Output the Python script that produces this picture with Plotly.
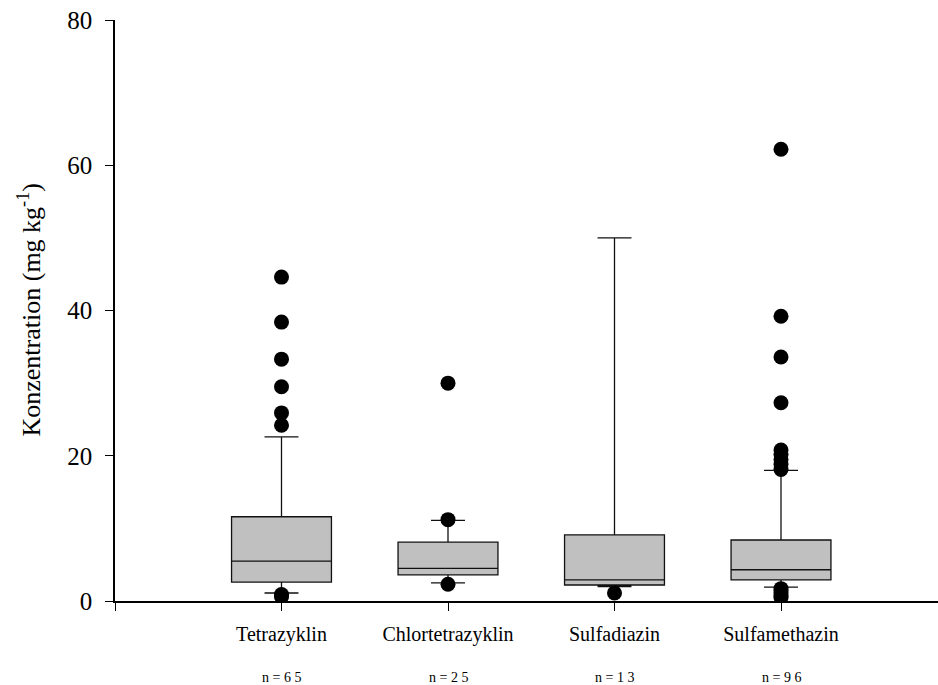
import plotly.graph_objects as go

# Substances and sample sizes
substances = ["Tetrazyklin", "Chlortetrazyklin", "Sulfadiazin", "Sulfamethazin"]
sample_sizes = ["n = 6 5", "n = 2 5", "n = 1 3", "n = 9 6"]

# Box statistics (mg/kg)
q1 = [2.6, 3.6, 2.2, 2.9]
median = [5.5, 4.5, 2.9, 4.3]
q3 = [11.6, 8.1, 9.1, 8.4]
lower_whisker = [1.1, 2.5, 2.0, 1.9]
upper_whisker = [22.6, 11.1, 50.0, 18.0]

# Outliers per substance
outliers_tetrazyklin = [44.6, 38.4, 33.3, 29.5, 25.9, 24.2, 0.9, 0.6]
outliers_chlortetrazyklin = [30.0, 11.2, 2.3]
outliers_sulfadiazin = [1.1]
outliers_sulfamethazin = [62.2, 39.2, 33.6, 27.3, 20.8, 20.2, 19.5, 18.8, 18.1,
                          1.7, 1.4, 1.1, 0.8, 0.5]
outliers = [outliers_tetrazyklin, outliers_chlortetrazyklin,
            outliers_sulfadiazin, outliers_sulfamethazin]

positions = [1, 2, 3, 4]
serif = "Liberation Serif, Times New Roman, serif"

fig = go.Figure()
for i, pos in enumerate(positions):
    fig.add_trace(go.Box(
        x=[pos], q1=[q1[i]], median=[median[i]], q3=[q3[i]],
        lowerfence=[lower_whisker[i]], upperfence=[upper_whisker[i]],
        width=0.6, whiskerwidth=0.34,
        fillcolor="#c0c0c0",
        line=dict(color="#111111", width=1.3),
        boxpoints=False, showlegend=False, hoverinfo="skip",
    ))
    fig.add_trace(go.Scatter(
        x=[pos] * len(outliers[i]), y=outliers[i], mode="markers",
        marker=dict(color="black", size=15),
        showlegend=False, hoverinfo="skip",
    ))

x_max = (938 - 115) / 166.5

fig.update_layout(
    width=938, height=685,
    margin=dict(l=115, r=0, t=20, b=84),
    plot_bgcolor="white", paper_bgcolor="white",
    font=dict(family=serif, color="black"),
    xaxis=dict(
        range=[0, x_max],
        tickvals=positions, ticktext=substances,
        tickfont=dict(size=20, family=serif),
        ticks="outside", ticklen=8, tickwidth=1.3, tickcolor="black",
        ticklabelstandoff=6,
        minor=dict(tickvals=[0], ticks="outside", ticklen=8,
                   tickwidth=1.3, tickcolor="black", showgrid=False),
        showline=True, linecolor="black", linewidth=1.5,
        showgrid=False, zeroline=False,
    ),
    yaxis=dict(
        range=[0, 80],
        tickvals=[0, 20, 40, 60, 80],
        tickfont=dict(size=25, family=serif),
        ticks="outside", ticklen=8, tickwidth=1.3, tickcolor="black",
        ticklabelstandoff=8,
        showline=True, linecolor="black", linewidth=1.5,
        showgrid=False, zeroline=False,
    ),
)

# Y-axis title
fig.add_annotation(
    text="Konzentration (mg kg<sup>-1</sup>)",
    x=0, xref="paper", y=0.5, yref="paper",
    xanchor="center", yanchor="middle",
    xshift=-85, textangle=-90, showarrow=False,
    font=dict(size=26, family=serif),
)

# Sample sizes below the category labels
for pos, label in zip(positions, sample_sizes):
    fig.add_annotation(
        text=label, x=pos, xref="x", y=0, yref="paper",
        yshift=-86, showarrow=False,
        font=dict(size=14, family=serif),
    )

fig.write_html("out.html")
